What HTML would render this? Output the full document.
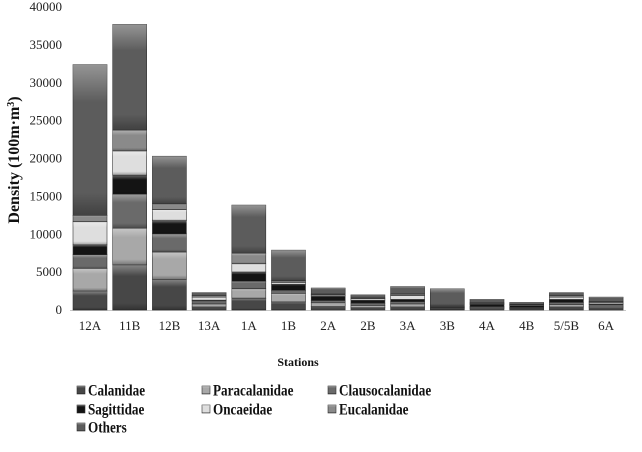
<!DOCTYPE html>
<html><head><meta charset="utf-8"><style>
body{margin:0;background:#fff;width:642px;height:447px;overflow:hidden;font-family:"Liberation Serif",serif}
text{font-family:"Liberation Serif","Times New Roman",serif}
</style></head><body>
<svg id="c" width="642" height="447" font-family="Liberation Serif, serif"></svg>
<script>
const categories=["12A","11B","12B","13A","1A","1B","2A","2B","3A","3B","4A","4B","5/5B","6A"];
const seriesNames=["Calanidae","Paracalanidae","Clausocalanidae","Sagittidae","Oncaeidae","Eucalanidae","Others"];
const calanidae=[2500,5950,4050,400,1550,1050,450,300,400,100,200,150,400,300];
const paracalanidae=[3000,4850,3600,400,1250,1150,500,300,400,100,150,100,300,200];
const clausocalanidae=[1800,4500,2400,400,1000,400,300,300,300,100,100,100,300,200];
const sagittidae=[1300,2500,1750,100,1200,800,600,400,300,50,300,250,400,100];
const oncaeidae=[3050,3200,1450,400,1100,250,150,200,500,50,100,100,300,200];
const eucalanidae=[850,2750,750,200,1400,200,100,100,200,100,100,50,200,100];
const others=[19900,13950,6300,400,6350,4050,800,400,1000,2300,450,250,400,600];
const yTicks=[0,5000,10000,15000,20000,25000,30000,35000,40000];
const series=[calanidae,paracalanidae,clausocalanidae,sagittidae,oncaeidae,eucalanidae,others];
const colors=["#474747","#a8a8a8","#6a6a6a","#141414","#dedede","#8a8a8a","#5c5c5c"];
const svg=document.getElementById('c');const NS="http://www.w3.org/2000/svg";
const FF="Liberation Serif, serif";
function mk(t,a,p){const e=document.createElementNS(NS,t);for(const k in a)e.setAttribute(k,a[k]);if(t==='text')e.setAttribute('font-family',FF);(p||svg).appendChild(e);return e;}
const y0=310,y1=7,yMax=40000;
const y=v=>y0-(v/yMax)*(y0-y1);
const x=i=>90+i*39.7;
const bw=34;
const defs=mk('defs',{});
const g=mk('linearGradient',{id:'sh',x1:0,y1:0,x2:0,y2:1},defs);
mk('stop',{offset:0,'stop-color':'#fff','stop-opacity':0.35},g);
mk('stop',{offset:0.25,'stop-color':'#fff','stop-opacity':0},g);
mk('stop',{offset:0.85,'stop-color':'#000','stop-opacity':0},g);
mk('stop',{offset:1,'stop-color':'#000','stop-opacity':0.3},g);
yTicks.forEach(t=>{const e=mk('text',{x:62,y:y(t)+4,'text-anchor':'end','font-size':13,fill:'#222'});e.textContent=t;
});
const yl=mk('text',{transform:'translate(19,160) rotate(-90)','text-anchor':'middle','font-size':16,'font-weight':'bold',fill:'#111'});
yl.innerHTML='Density (100m·m<tspan baseline-shift="super" font-size="10">3</tspan>)';

const base=mk('line',{x1:70,x2:626,y1:y0+0.5,y2:y0+0.5,stroke:'#c8c8c8'});

categories.forEach((c,i)=>{let acc=0;
 series.forEach((s,k)=>{const v=s[i];const top=y(acc+v),bot=y(acc);acc+=v;
  const r=mk('rect',{x:x(i)-bw/2,y:top,width:bw,height:bot-top,fill:colors[k],stroke:'#333','stroke-width':0.6});
  
  const s2=mk('rect',{x:x(i)-bw/2,y:top,width:bw,height:bot-top,fill:'url(#sh)'});
  });
 const t=mk('text',{x:x(i),y:330,'text-anchor':'middle','font-size':13,fill:'#222'});t.textContent=c;
 });
const xt=mk('text',{x:298,y:366,'text-anchor':'middle','font-size':12,'font-weight':'bold',fill:'#111'});xt.textContent='Stations';

const lxs=[77,202,328];const lys=[390,409,427];
seriesNames.forEach((n,k)=>{const lx=lxs[k%3],ly=lys[Math.floor(k/3)];
 const grp=mk('g',{});
 mk('rect',{x:lx,y:ly-4,width:8,height:8,fill:colors[k],stroke:'#333','stroke-width':0.6},grp);
 mk('rect',{x:lx,y:ly-4,width:8,height:8,fill:'url(#sh)'},grp);
 const t=mk('text',{x:lx+11,y:ly+5.5,'font-size':15.5,'font-weight':'bold',fill:'#111',transform:'translate('+(lx+11)+',0) scale(0.85,1) translate('+(-(lx+11))+',0)'},grp);t.textContent=n;});
</script>
</body></html>
